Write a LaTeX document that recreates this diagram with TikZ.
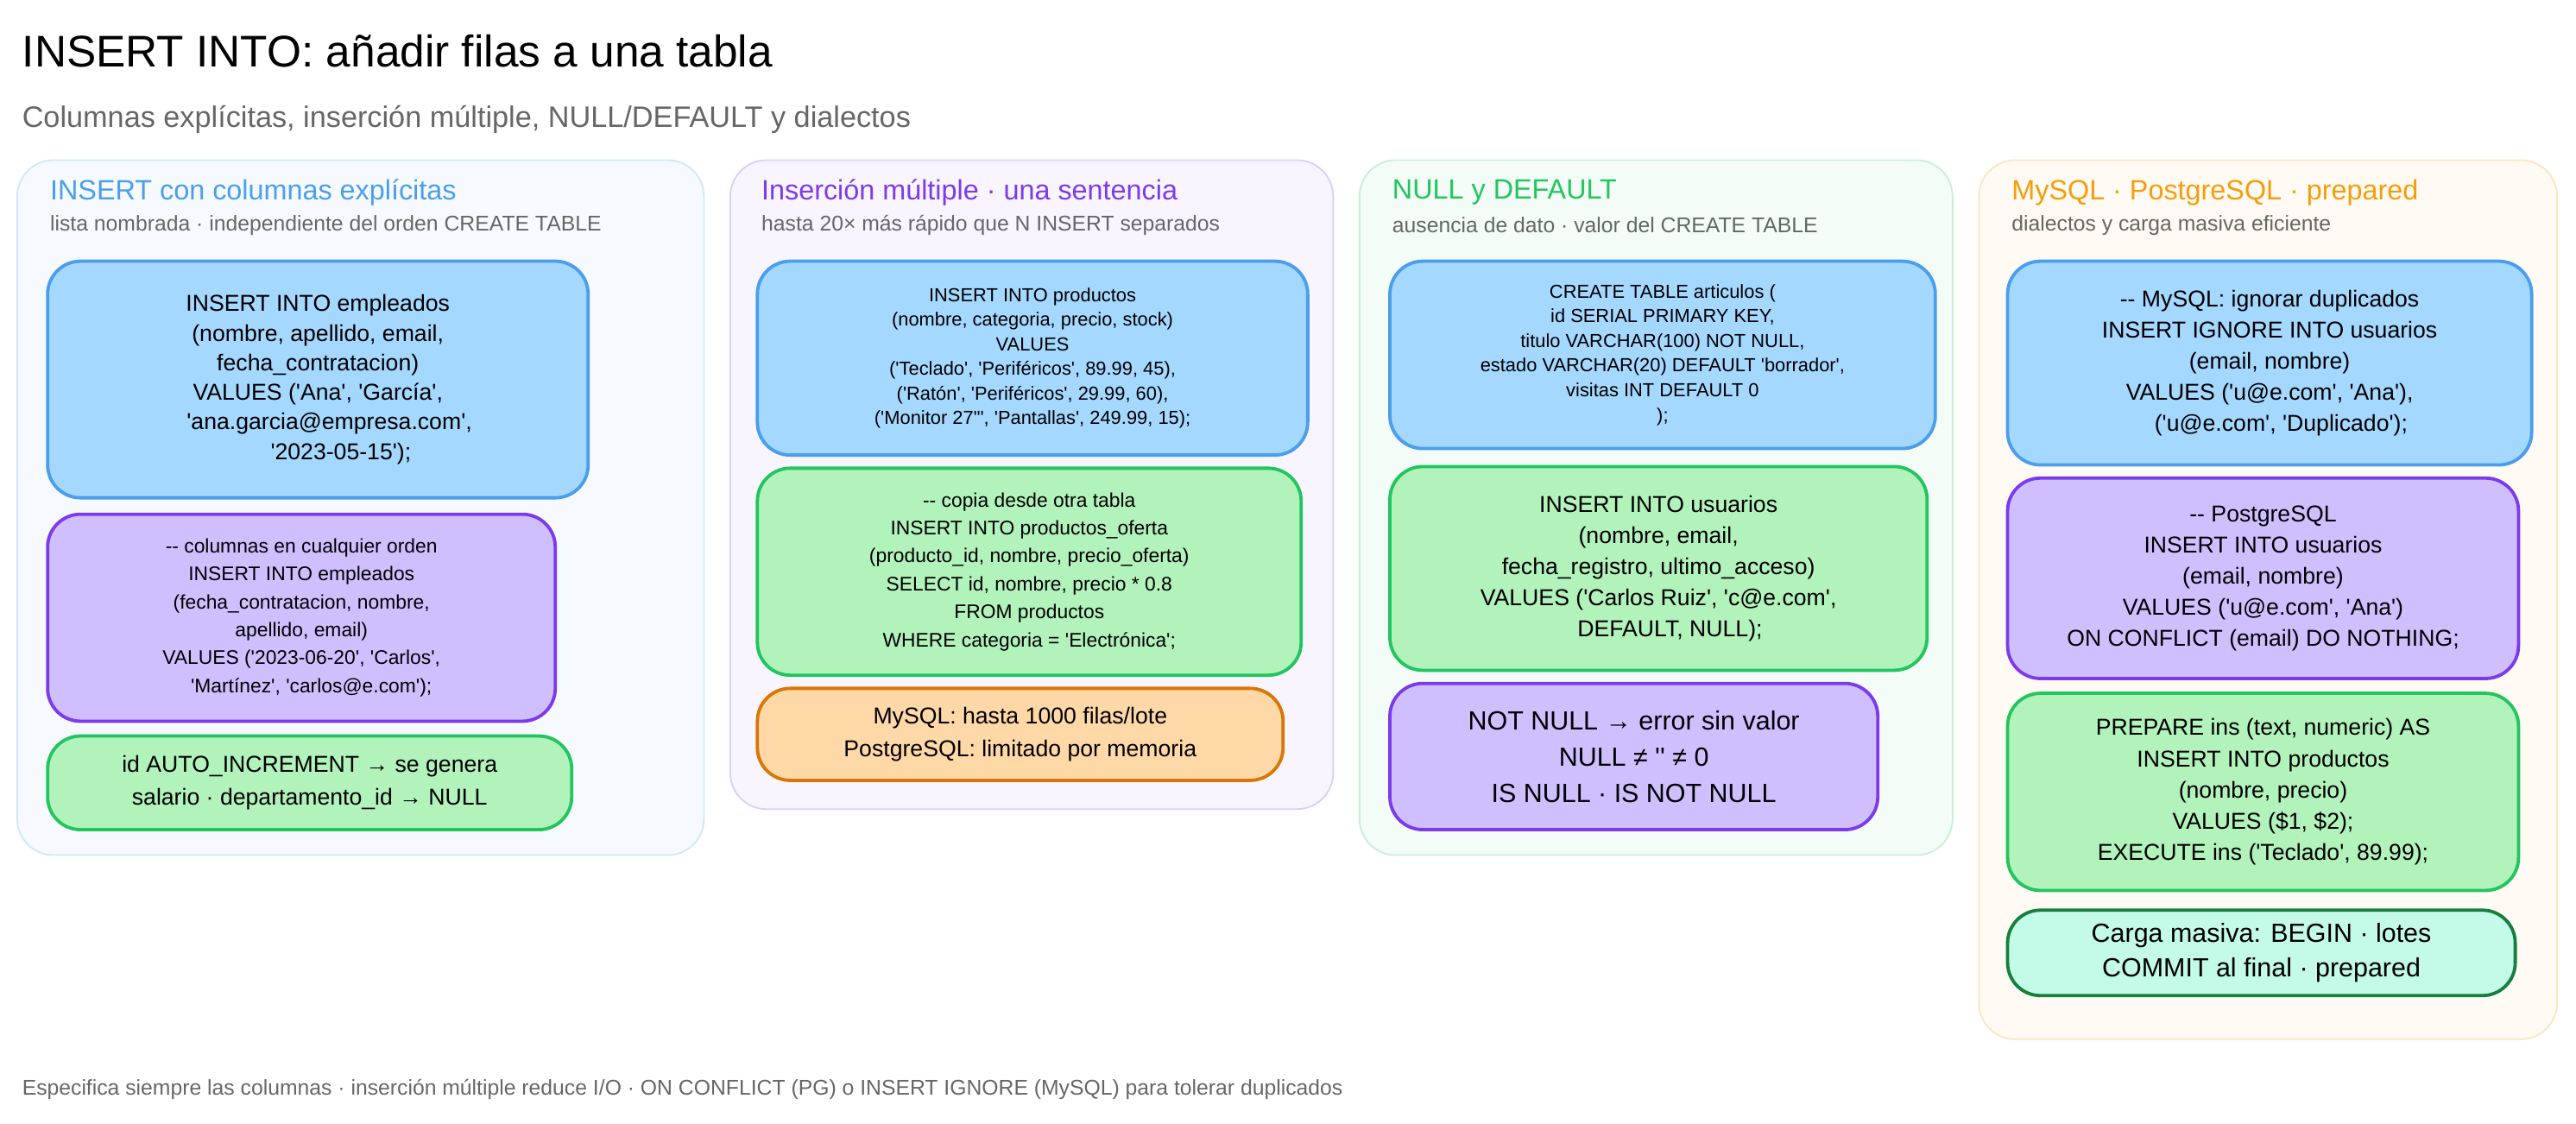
\documentclass[tikz,border=0pt]{standalone}
\usepackage{fontspec}
\setmainfont{Liberation Sans}[Ligatures=TeXOff]
\usetikzlibrary{positioning}
\definecolor{bluef}{HTML}{A5D8FF}\definecolor{bluel}{HTML}{4A9EED}
\definecolor{purf}{HTML}{D0BFFF}\definecolor{purl}{HTML}{7C3AED}
\definecolor{grnf}{HTML}{B2F2BB}\definecolor{grnl}{HTML}{22C55E}
\definecolor{orgf}{HTML}{FFD8A8}\definecolor{orgl}{HTML}{D97706}
\definecolor{tealf}{HTML}{C3FAE8}\definecolor{teall}{HTML}{15803D}
\definecolor{ttlyel}{HTML}{F59E0B}
\definecolor{gtext}{HTML}{666666}
\tikzset{
  panel/.style={draw=#1!25, fill=#1!5, line width=1pt, rounded corners=22pt, anchor=north west},
  box/.style={draw=#1l, fill=#1f, line width=2pt, rounded corners=20pt, align=center, anchor=north west, inner sep=2pt},
  ptitle/.style={anchor=west, font=\fontsize{17}{20}\selectfont, text=#1},
  psub/.style={anchor=west, font=\fontsize{13}{16}\selectfont, text=gtext},
}
\begin{document}
\begin{tikzpicture}[x=1pt,y=-1pt]
\useasboundingbox (0,0) rectangle (1568,684);

% heading
\node[anchor=west, font=\fontsize{27}{30}\selectfont] (title) at (10,31) {INSERT INTO: añadir filas a una tabla};
\node[anchor=west, font=\fontsize{18}{22}\selectfont, text=gtext] (subtitle) at (10,73) {Columnas explícitas, inserción múltiple, NULL/DEFAULT y dialectos};

% panels
\node[panel=bluel, minimum width=418pt, minimum height=423pt] (p1) at (10,97) {};
\node[panel=purl, minimum width=367pt, minimum height=395pt] (p2) at (444,97) {};
\node[panel=grnl, minimum width=361pt, minimum height=423pt] (p3) at (827,97) {};
\node[panel=ttlyel, minimum width=352pt, minimum height=535pt] (p4) at (1204,97) {};

\node[ptitle=bluel] (t1) at (27,117) {INSERT con columnas explícitas};
\node[psub] (s1) at (27,137) {lista nombrada · independiente del orden CREATE TABLE};
\node[ptitle=purl] (t2) at (460,117) {Inserción múltiple · una sentencia};
\node[psub] (s2) at (460,137) {hasta 20× más rápido que N INSERT separados};
\node[ptitle=grnl] (t3) at (844,117) {NULL y DEFAULT};
\node[psub] (s3) at (844,137) {ausencia de dato · valor del CREATE TABLE};
\node[ptitle=ttlyel] (t4) at (1221,117) {MySQL · PostgreSQL · prepared};
\node[psub] (s4) at (1221,137) {dialectos y carga masiva eficiente};

% column 1
\node[box=blue, minimum width=329pt, minimum height=144pt, font=\fontsize{14}{18}\selectfont] (c1a) at (28,158)
  {INSERT INTO empleados\\(nombre, apellido, email,\\fecha\_contratacion)\\VALUES ('Ana', 'García',\\\quad 'ana.garcia@empresa.com',\\\quad\quad '2023-05-15');};
\node[box=pur, minimum width=309pt, minimum height=126pt, font=\fontsize{12}{17}\selectfont] (c1b) at (28,312)
  {-- columnas en cualquier orden\\INSERT INTO empleados\\(fecha\_contratacion, nombre,\\apellido, email)\\VALUES ('2023-06-20', 'Carlos',\\\quad 'Martínez', 'carlos@e.com');};
\node[box=grn, minimum width=319pt, minimum height=57pt, font=\fontsize{14}{20}\selectfont] (c1c) at (28,447)
  {id AUTO\_INCREMENT → se genera\\salario · departamento\_id → NULL};

% column 2
\node[box=blue, minimum width=335pt, minimum height=118pt, font=\fontsize{11.5}{15}\selectfont] (c2a) at (460,158)
  {INSERT INTO productos\\(nombre, categoria, precio, stock)\\VALUES\\('Teclado', 'Periféricos', 89.99, 45),\\('Ratón', 'Periféricos', 29.99, 60),\\('Monitor 27"', 'Pantallas', 249.99, 15);};
\node[box=grn, minimum width=331pt, minimum height=126pt, font=\fontsize{12}{17}\selectfont] (c2b) at (460,284)
  {-- copia desde otra tabla\\INSERT INTO productos\_oferta\\(producto\_id, nombre, precio\_oferta)\\SELECT id, nombre, precio * 0.8\\FROM productos\\WHERE categoria = 'Electrónica';};
\node[box=org, minimum width=320pt, minimum height=56pt, font=\fontsize{14}{20}\selectfont] (c2c) at (460,418)
  {MySQL: hasta 1000 filas/lote\\PostgreSQL: limitado por memoria};

% column 3
\node[box=blue, minimum width=332pt, minimum height=114pt, font=\fontsize{11.5}{15}\selectfont] (c3a) at (845,158)
  {CREATE TABLE articulos (\\id SERIAL PRIMARY KEY,\\titulo VARCHAR(100) NOT NULL,\\estado VARCHAR(20) DEFAULT 'borrador',\\visitas INT DEFAULT 0\\);};
\node[box=grn, minimum width=327pt, minimum height=124pt, font=\fontsize{14}{19}\selectfont] (c3b) at (845,283)
  {INSERT INTO usuarios\\(nombre, email,\\fecha\_registro, ultimo\_acceso)\\VALUES ('Carlos Ruiz', 'c@e.com',\\\quad DEFAULT, NULL);};
\node[box=pur, minimum width=297pt, minimum height=89pt, font=\fontsize{16}{22}\selectfont] (c3c) at (845,415)
  {NOT NULL → error sin valor\\NULL ≠ '' ≠ 0\\IS NULL · IS NOT NULL};

% column 4
\node[box=blue, minimum width=319pt, minimum height=124pt, font=\fontsize{14}{19}\selectfont] (c4a) at (1221,158)
  {-- MySQL: ignorar duplicados\\INSERT IGNORE INTO usuarios\\(email, nombre)\\VALUES ('u@e.com', 'Ana'),\\\quad ('u@e.com', 'Duplicado');};
\node[box=pur, minimum width=311pt, minimum height=122pt, font=\fontsize{14}{19}\selectfont] (c4b) at (1221,290)
  {-- PostgreSQL\\INSERT INTO usuarios\\(email, nombre)\\VALUES ('u@e.com', 'Ana')\\ON CONFLICT (email) DO NOTHING;};
\node[box=grn, minimum width=311pt, minimum height=120pt, font=\fontsize{14}{19}\selectfont] (c4c) at (1221,421)
  {PREPARE ins (text, numeric) AS\\INSERT INTO productos\\(nombre, precio)\\VALUES (\$1, \$2);\\EXECUTE ins ('Teclado', 89.99);};
\node[box=teal, minimum width=309pt, minimum height=52pt, font=\fontsize{16}{21}\selectfont] (c4d) at (1221,553)
  {Carga masiva: BEGIN · lotes\\COMMIT al final · prepared};

% footer
\node[anchor=west, font=\fontsize{13}{16}\selectfont, text=gtext] (foot) at (10,663)
  {Especifica siempre las columnas · inserción múltiple reduce I/O · ON CONFLICT (PG) o INSERT IGNORE (MySQL) para tolerar duplicados};
\end{tikzpicture}
\end{document}
